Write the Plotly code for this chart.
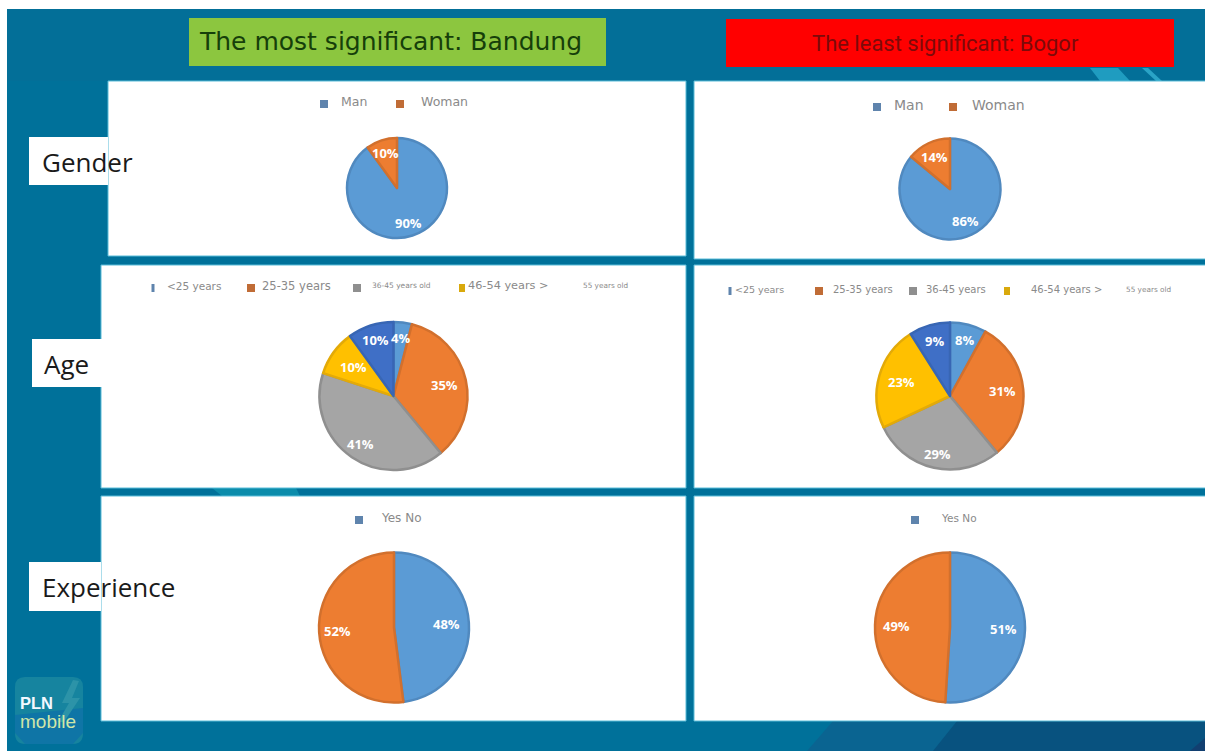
import math
import plotly.graph_objects as go

W, H = 1205, 751

# ---------- data ----------
gender_labels = ["Man", "Woman"]
gender_bandung = [90, 10]
gender_bogor = [86, 14]
age_labels = ["<25 years", "25-35 years", "36-45 years", "46-54 years >", "55 years old"]
age_bandung = [4, 35, 41, 10, 10]
age_bogor = [8, 31, 29, 23, 9]
exp_labels = ["Yes", "No"]
exp_bandung = [48, 52]
exp_bogor = [51, 49]
title_most = "The most significant: Bandung"
title_least = "The least significant: Bogor"
row_names = ["Gender", "Age", "Experience"]

# ---------- styling ----------
FILL = ["#5b9bd5", "#ed7d31", "#a5a5a5", "#ffc000", "#3f6fc6"]
EDGE = ["#5089bf", "#d2702d", "#8f8f8f", "#e3aa08", "#3866b4"]
TEAL = "#00719a"


def X(px):
    return px / W


def Y(py):
    return 1 - py / H


def rect(x0, y0, x1, y1, fill, line=None, layer="below"):
    return dict(type="rect", xref="paper", yref="paper", x0=X(x0), x1=X(x1), y0=Y(y1), y1=Y(y0),
                fillcolor=fill, line=dict(color=line or fill, width=1 if line else 0), layer=layer)


def poly(points, fill, layer="below"):
    d = "M " + " L ".join(f"{X(a):.5f},{Y(b):.5f}" for a, b in points) + " Z"
    return dict(type="path", xref="paper", yref="paper", path=d, fillcolor=fill,
                line=dict(width=0), layer=layer)


def text(px, py, s, size, color, font="DejaVu Sans", anchor="left", bold=False):
    return dict(xref="paper", yref="paper", x=X(px), y=Y(py), text=f"<b>{s}</b>" if bold else s,
                showarrow=False, xanchor=anchor, yanchor="middle",
                font=dict(size=size, color=color, family=font), borderpad=0, borderwidth=0)


shapes = [
    rect(7, 9, W, H, TEAL),
    poly([(7, 9), (W, 9), (W, 81), (7, 81)], "#036f98"),
    poly([(1090, 68), (1118, 68), (1130, 81), (1100, 81)], "#1f9cc0"),
    poly([(1142, 68), (1148, 68), (1162, 81), (1156, 81)], "#2aa3c6"),
    poly([(212, 488), (296, 488), (300, 496), (222, 496)], "#0b8cab"),
    poly([(807, 751), (833, 721), (W, 721), (W, 751)], "#0a6491"),
    poly([(933, 751), (957, 721), (W, 721), (W, 751)], "#08527f"),
    poly([(1190, 751), (W, 738), (W, 751)], "#123f70"),
    # panels
    rect(108, 81, 686, 256, "#ffffff", "#58bcd8"),
    rect(694, 81, W + 3, 259, "#ffffff", "#58bcd8"),
    rect(101, 265, 686, 488, "#ffffff", "#58bcd8"),
    rect(694, 265, W + 3, 488, "#ffffff", "#58bcd8"),
    rect(101, 496, 686, 721, "#ffffff", "#58bcd8"),
    rect(694, 496, W + 3, 721, "#ffffff", "#58bcd8"),
    # header boxes
    rect(189, 18, 606, 66, "#8cc63f"),
    rect(726, 19, 1174, 67, "#ff0000"),
    # row label boxes
    rect(29, 137, 108, 185, "#ffffff"),
    rect(32, 339, 102, 387, "#ffffff"),
    rect(29, 562, 101, 611, "#ffffff"),
    # logo
    dict(type="path", xref="paper", yref="paper", fillcolor="#16849f", line=dict(width=0), layer="below",
         path=f"M {X(25)},{Y(677)} L {X(73)},{Y(677)} Q {X(83)},{Y(677)} {X(83)},{Y(687)} L {X(83)},{Y(733)} "
              f"Q {X(83)},{Y(744)} {X(73)},{Y(744)} L {X(25)},{Y(744)} Q {X(15)},{Y(744)} {X(15)},{Y(733)} "
              f"L {X(15)},{Y(687)} Q {X(15)},{Y(677)} {X(25)},{Y(677)} Z"),
    poly([(15, 715), (83, 708), (83, 733), (73, 744), (25, 744), (15, 733)], "#0f75a6"),
    poly([(73, 680), (62, 703), (69, 703), (58, 722), (64, 722), (80, 698), (72, 698), (79, 681)], "#2c93a8"),
]

annotations = [
    text(199, 41, title_most, 25, "#163f0a"),
    text(945, 44, title_least, 22, "#7d0a0a", font="Roboto", anchor="center"),
    text(42, 162, row_names[0], 26, "#1a1a1a", font="Open Sans"),
    text(44, 364, row_names[1], 26, "#1a1a1a", font="Open Sans"),
    text(42, 587, row_names[2], 26, "#1a1a1a", font="Open Sans"),
    text(20, 703, "PLN", 16.5, "#f2f8ff", font="Liberation Sans", bold=True),
    text(20, 721, "mobile", 19, "#cfe6a8", font="Liberation Sans"),
]

GREY = "#8a8a8a"
SW_BLUE, SW_ORG, SW_GRY, SW_YEL = "#5f84ad", "#c06c36", "#8f8f8f", "#d9a90c"

# legend entries: (swatch x, half width, colour, text x, text, size)
legend_rows = [
    (102, [(324, 4, SW_BLUE, 341, gender_labels[0], 12.5), (400, 4, SW_ORG, 421, gender_labels[1], 12.5)]),
    (105, [(877, 4, SW_BLUE, 894, gender_labels[0], 14), (953, 4, SW_ORG, 972, gender_labels[1], 14)]),
    (286, [(153, 1.5, SW_BLUE, 167, age_labels[0], 10.5), (251, 4, SW_ORG, 262, age_labels[1], 11.5),
           (357, 4, SW_GRY, 372, age_labels[2] + " old", 7.5), (462, 3, SW_YEL, 468, age_labels[3], 11.3),
           (None, 0, None, 583, age_labels[4], 7.3)]),
    (289, [(730, 1.5, SW_BLUE, 735, age_labels[0], 9.5), (819, 4, SW_ORG, 833, age_labels[1], 10),
           (913, 4, SW_GRY, 926, age_labels[2], 10), (1007, 3, SW_YEL, 1031, age_labels[3], 10),
           (None, 0, None, 1126, age_labels[4], 7.3)]),
    (518, [(359, 4, SW_BLUE, 381, " ".join(exp_labels), 12)]),
    (518, [(915, 4, SW_BLUE, 941, " ".join(exp_labels), 10.5)]),
]
for ly, entries in legend_rows:
    for sx, hw, col, tx, label, size in entries:
        if sx is not None:
            shapes.append(rect(sx - hw, ly - 2, sx + hw, ly + 6, col))
        annotations.append(text(tx, ly, label, size, GREY))


def pie(cx, cy, r, labels, values, fracs):
    """A pie centred on pixel (cx, cy); its percent labels follow each slice's mid-angle."""
    idx = list(range(len(values)))
    total = sum(values)
    start = 0
    for v, f in zip(values, fracs):
        mid = math.radians((start + v / 2) / total * 360)
        start += v
        annotations.append(text(cx + f * r * math.sin(mid), cy - f * r * math.cos(mid), f"{v}%",
                                13, "white", font="Open Sans", anchor="center", bold=True))
    return go.Pie(
        labels=labels, values=values, sort=False, direction="clockwise", rotation=0,
        domain=dict(x=[X(cx - r), X(cx + r)], y=[Y(cy + r), Y(cy - r)]),
        marker=dict(colors=[FILL[i] for i in idx], line=dict(color=[EDGE[i] for i in idx], width=2.5)),
        textinfo="none", showlegend=False, hoverinfo="label+percent",
    )


fig = go.Figure([
    pie(397, 188, 50, gender_labels, gender_bandung, [0.73, 0.74]),
    pie(950, 189, 50.5, gender_labels, gender_bogor, [0.71, 0.7]),
    pie(393.5, 396, 74, age_labels, age_bandung, [0.79, 0.7, 0.79, 0.67, 0.79]),
    pie(950, 396, 73.5, age_labels, age_bogor, [0.78, 0.72, 0.81, 0.69, 0.78]),
    pie(394, 627.5, 75, exp_labels, exp_bandung, [0.7, 0.76]),
    pie(950, 627.5, 75, exp_labels, exp_bogor, [0.72, 0.72]),
])
fig.update_layout(
    width=W, height=H, margin=dict(l=0, r=0, t=0, b=0), paper_bgcolor="#ffffff",
    shapes=shapes, annotations=annotations, showlegend=False,
)
fig.write_html("out.html", config=dict(displayModeBar=False),
               post_script="document.body.style.margin='0';document.documentElement.style.overflow='hidden';")
